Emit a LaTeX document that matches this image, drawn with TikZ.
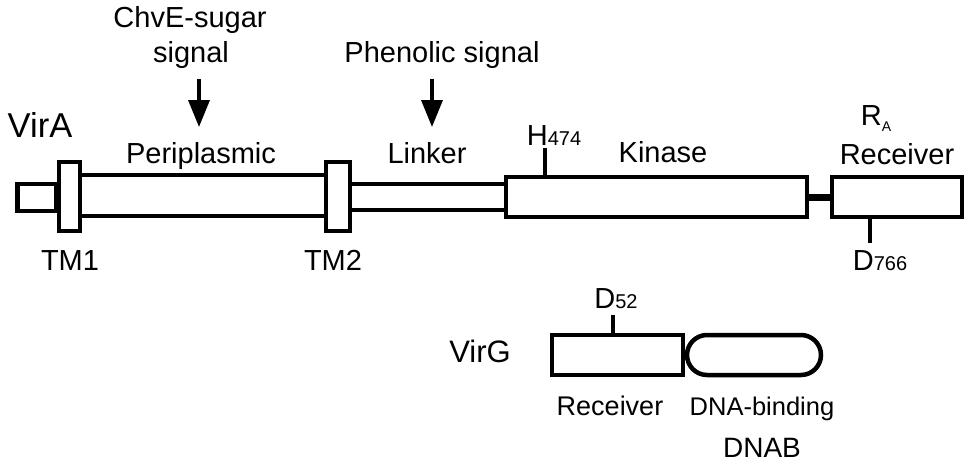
\documentclass[tikz,border=0pt]{standalone}
\usepackage{fontspec}
\setmainfont{Liberation Sans}
\usetikzlibrary{positioning, arrows.meta, shapes.misc}
\newcommand{\resnum}[1]{{\fontsize{20}{22}\selectfont #1}}

\tikzset{
    dombox/.style={draw, line width=4.5pt, fill=white, rectangle, inner sep=0pt, minimum height=40pt},
    tmbox/.style={dombox, minimum height=69pt},
    lbl/.style={anchor=base, inner sep=0pt, font=\fontsize{29}{34}\selectfont},
    smlbl/.style={lbl, font=\fontsize{27}{32}\selectfont},
    biglbl/.style={lbl, font=\fontsize{34.5}{38}\selectfont},
    resline/.style={line width=4.5pt},
    sigarrow/.style={-{Triangle[length=27pt, width=21pt]}, line width=3.5pt}
}

\begin{document}
\begin{tikzpicture}[x=1pt, y=-1pt]
        \useasboundingbox (0,0) rectangle (970,464);

        % VirA
        \node[biglbl] (vira) at (40,137) {VirA};

        %% membrane-side bars
        \node[dombox, minimum width=39pt, minimum height=27pt] (stub) at (37,197.5) {};
        \node[dombox, minimum width=270pt, minimum height=41pt] (peri) at (205,195.5) {};
        \node[dombox, minimum width=166pt, minimum height=26pt] (linker) at (423,197) {};

        %% transmembrane boxes
        \node[tmbox, minimum width=21pt] (tmone) at (69.5,196.5) {};
        \node[tmbox, minimum width=24pt] (tmtwo) at (338,196.5) {};

        %% kinase and receiver
        \node[dombox, minimum width=301pt] (kinase) at (656.5,197) {};
        \node[dombox, minimum width=130pt] (reca) at (897,197) {};
        \draw[line width=7pt] (kinase.east) -- (reca.west);

        %% residues
        \coordinate (htick) at (545,148);
        \draw[resline] (htick) -- (htick |- kinase.north);
        \coordinate (dtick) at (870,243);
        \draw[resline] (dtick) -- (dtick |- reca.south);

        %% labels
        \node[lbl] (chve) at (190,27) {ChvE-sugar};
        \node[lbl] (chvesig) at (191,62) {signal};
        \node[lbl] (phen) at (442,62) {Phenolic signal};
        \node[lbl] (perilbl) at (201,163) {Periplasmic};
        \node[lbl] (linklbl) at (427,163) {Linker};
        \node[lbl] (kinlbl) at (663,162) {Kinase};
        \node[lbl] (recalbl) at (897,164) {Receiver};
        \node[lbl] (ralbl) at (876,125) {R\raisebox{-6pt}{\fontsize{14}{16}\selectfont A}};
        \node[lbl] (hlbl) at (554,145) {H\resnum{474}};
        \node[lbl] (tmonelbl) at (70,270) {TM1};
        \node[lbl] (tmtwolbl) at (333,270) {TM2};
        \node[lbl] (dlbl) at (880,270) {D\resnum{766}};

        %% signal arrows
        \coordinate (chvetail) at (199,79);
        \coordinate (chvetip) at (199,127);
        \draw[sigarrow] (chvetail) -- (chvetip);
        \coordinate (phentail) at (432,79);
        \coordinate (phentip) at (432,127);
        \draw[sigarrow] (phentail) -- (phentip);

        % VirG
        \node[biglbl, font=\fontsize{31}{35}\selectfont] (virg) at (480,362) {VirG};
        \node[dombox, minimum width=131pt] (virgrec) at (617.5,355) {};
        \node[draw, line width=4.5pt, fill=white, rounded rectangle, inner sep=0pt,
              minimum width=134pt, minimum height=40pt] (dnab) at (754,355) {};
        \coordinate (dfivetwo) at (613,315);
        \draw[resline] (dfivetwo) -- (dfivetwo |- virgrec.north);
        \node[lbl] (d52lbl) at (616,308) {D\resnum{52}};
        \node[smlbl] (virgreclbl) at (610,415) {Receiver};
        \node[smlbl, font=\fontsize{25.5}{30}\selectfont] (dnablbl) at (762,415) {DNA-binding};
        \node[smlbl, font=\fontsize{28}{32}\selectfont] (dnabname) at (762,457) {DNAB};

%        \draw[help lines, step=10] (0,0) grid (970,464);
\end{tikzpicture}
\end{document}
